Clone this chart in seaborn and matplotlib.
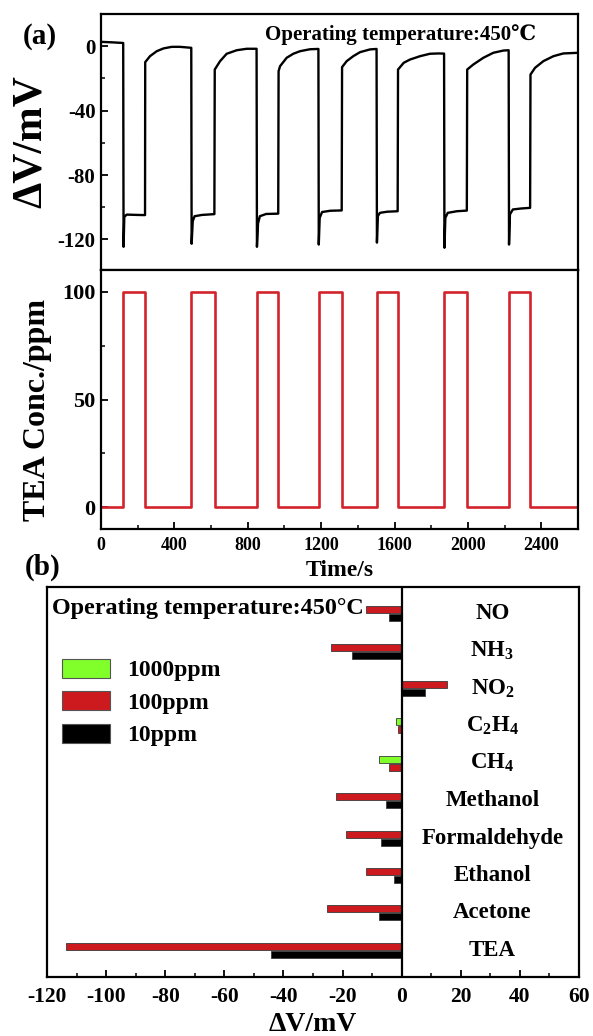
import numpy as np
import pandas as pd
import matplotlib
matplotlib.use("Agg")
import matplotlib.pyplot as plt
from matplotlib.patches import Patch
from matplotlib.ticker import MultipleLocator
import seaborn as sns

# ---------------------------------------------------------------
# (a) Transient response to 100 ppm TEA at 450 °C
# ---------------------------------------------------------------
time_s = [
    0, 60, 121,
    123, 127, 140, 200, 240,
    241, 267, 304, 340, 385, 430, 492,
    494, 500, 510, 550, 618,
    620, 649, 685, 740, 794, 848,
    850, 856, 866, 900, 966,
    968, 976, 1012, 1048, 1085, 1139, 1185,
    1187, 1192, 1205, 1250, 1312,
    1314, 1339, 1375, 1412, 1466, 1502,
    1504, 1509, 1520, 1560, 1617,
    1619, 1650, 1684, 1739, 1793, 1840, 1870,
    1872, 1877, 1890, 1940, 1994,
    1996, 2029, 2084, 2138, 2193, 2222,
    2224, 2229, 2245, 2290, 2339,
    2341, 2366, 2411, 2466, 2520, 2600,
]
dv_mv = [
    2.7, 2.4, 2.0,
    -124.6, -106.0, -104.6, -104.8, -104.9,
    -9.9, -6.2, -3.1, -1.4, -0.4, -0.4, -1.0,
    -122.7, -108.7, -105.6, -104.8, -104.3,
    -14.5, -9.3, -4.7, -2.5, -1.6, -1.6,
    -124.6, -110.0, -105.6, -104.2, -104.0,
    -15.5, -12.4, -7.2, -4.7, -3.1, -1.9, -1.7,
    -123.2, -106.6, -103.0, -102.2, -102.0,
    -13.0, -9.3, -6.2, -3.7, -2.0, -1.7,
    -122.0, -105.6, -103.5, -102.8, -102.5,
    -14.5, -10.3, -8.3, -6.2, -4.7, -4.5, -4.6,
    -125.2, -106.6, -103.5, -102.5, -102.1,
    -14.5, -11.4, -7.2, -4.1, -2.7, -2.5,
    -123.2, -104.5, -101.4, -100.8, -100.4,
    -17.6, -13.4, -9.3, -6.2, -4.5, -4.1,
]

# TEA gas pulses (s) and concentration (ppm)
pulse_on_s = [122, 493, 849, 1186, 1503, 1871, 2223]
pulse_off_s = [240, 619, 967, 1313, 1618, 1995, 2340]
pulse_ppm = 100
run_end_s = 2600

# ---------------------------------------------------------------
# (b) Selectivity at 450 °C
# ---------------------------------------------------------------
gases = ["NO", "NH3", "NO2", "C2H4", "CH4", "Methanol",
         "Formaldehyde", "Ethanol", "Acetone", "TEA"]
gas_labels = ["NO", r"$\mathbf{NH_3}$", r"$\mathbf{NO_2}$",
              r"$\mathbf{C_2H_4}$", r"$\mathbf{CH_4}$", "Methanol",
              "Formaldehyde", "Ethanol", "Acetone", "TEA"]
series_names = ["1000ppm", "100ppm", "10ppm"]
nan = np.nan
dv_1000ppm = [nan, nan, nan, -1.9, -7.8, nan, nan, nan, nan, nan]
dv_100ppm = [-11.9, -23.8, 15.5, -1.2, -4.2, -22.2, -18.9, -12.2, -25.4, -113.5]
dv_10ppm = [-4.3, -16.8, 7.8, nan, nan, -5.4, -7.1, -2.6, -7.8, -44.2]
series_colors = ["#80FF2A", "#CC1A1F", "#000000"]

# ---------------------------------------------------------------
sns.set_theme(style="ticks")
plt.rcParams.update({
    "font.family": ["Liberation Serif", "DejaVu Serif", "DejaVu Sans"],
    "font.weight": "bold",
    "axes.labelweight": "bold",
    "axes.unicode_minus": False,
    "mathtext.fontset": "custom",
    "mathtext.rm": "Liberation Serif:bold",
    "mathtext.bf": "Liberation Serif:bold",
    "mathtext.it": "Liberation Serif:bold",
    "axes.edgecolor": "black",
    "axes.linewidth": 1.6,
    "text.color": "black",
    "axes.labelcolor": "black",
    "xtick.color": "black",
    "ytick.color": "black",
    "xtick.direction": "in",
    "ytick.direction": "in",
    "xtick.major.width": 1.3,
    "ytick.major.width": 1.3,
    "xtick.minor.width": 1.1,
    "ytick.minor.width": 1.1,
    "xtick.major.size": 5,
    "ytick.major.size": 5,
    "xtick.minor.size": 3,
    "ytick.minor.size": 3,
})

W, H = 593, 1036
fig = plt.figure(figsize=(W / 100, H / 100), dpi=100)


def frame(left, top, right, bottom):
    return [left / W, 1 - bottom / H, (right - left) / W, (bottom - top) / H]


ax_v = fig.add_axes(frame(101, 14, 578, 270))
ax_c = fig.add_axes(frame(101, 270, 578, 529))
ax_b = fig.add_axes(frame(47, 587, 579, 977))

# --- (a) upper: sensor signal ---
sns.lineplot(x=time_s, y=dv_mv, ax=ax_v, color="black", linewidth=1.7,
             sort=False, estimator=None)
ax_v.set_xlim(0, run_end_s)
ax_v.set_ylim(-139, 20)
ax_v.yaxis.set_major_locator(MultipleLocator(40))
ax_v.yaxis.set_minor_locator(MultipleLocator(20))
ax_v.tick_params(axis="x", which="both", bottom=False, labelbottom=False)
ax_v.tick_params(axis="y", which="both", labelsize=15, pad=4)
ax_v.set_ylabel("ΔV/mV", fontsize=30, va="center")
ax_v.yaxis.set_label_coords(-0.147, 0.5)
ax_v.text(0.344, 0.92, "Operating temperature:450℃", transform=ax_v.transAxes,
          fontsize=15, ha="left", va="center")

# --- (a) lower: TEA concentration ---
conc_t, conc_v = [0], [0]
for t_on, t_off in zip(pulse_on_s, pulse_off_s):
    conc_t += [t_on, t_on, t_off, t_off]
    conc_v += [0, pulse_ppm, pulse_ppm, 0]
conc_t.append(run_end_s)
conc_v.append(0)
sns.lineplot(x=conc_t, y=conc_v, ax=ax_c, color="#D2232A", linewidth=1.9,
             sort=False, estimator=None)
ax_c.set_xlim(0, run_end_s)
ax_c.set_ylim(-10, 110)
ax_c.xaxis.set_major_locator(MultipleLocator(400))
ax_c.xaxis.set_minor_locator(MultipleLocator(200))
ax_c.yaxis.set_major_locator(MultipleLocator(50))
ax_c.yaxis.set_minor_locator(MultipleLocator(25))
ax_c.tick_params(axis="x", which="both", labelsize=13, pad=6)
ax_c.tick_params(axis="y", which="both", labelsize=16, pad=4)
ax_c.set_xlabel("Time/s", fontsize=17, va="center")
ax_c.xaxis.set_label_coords(0.5, -0.160)
ax_c.set_ylabel("TEA Conc./ppm", fontsize=23, va="center")
ax_c.yaxis.set_label_coords(-0.134, 0.46)

fig.text(40 / W, 1 - 36 / H, "(a)", fontsize=21, ha="center", va="center")
fig.text(43 / W, 1 - 567 / H, "(b)", fontsize=21, ha="center", va="center")

# --- (b) selectivity bars: present series centred on each gas row ---
bar_step = 0.214
rows = []
for i, gas in enumerate(gases):
    vals = [dv_1000ppm[i], dv_100ppm[i], dv_10ppm[i]]
    present = [(s, v) for s, v in zip(series_names, vals) if not np.isnan(v)]
    n = len(present)
    for j, (s, v) in enumerate(present):
        rows.append({"gas": gas, "series": s, "dv": v,
                     "pos": i + (j - (n - 1) / 2) * bar_step})
bars = pd.DataFrame(rows)

sns.barplot(data=bars, x="dv", y="pos", hue="series", hue_order=series_names,
            palette=dict(zip(series_names, series_colors)), orient="h",
            native_scale=True, dodge=False, width=0.875, errorbar=None,
            saturation=1, edgecolor="#3a3a3a", linewidth=0.6, legend=False,
            ax=ax_b)
ax_b.axvline(0, color="black", linewidth=1.6, zorder=5)
ax_b.set_xlim(-120, 60)
ax_b.set_ylim(len(gases) - 1 + 0.72, -0.72)
ax_b.set_yticks([])
ax_b.set_ylabel("")
ax_b.xaxis.set_major_locator(MultipleLocator(20))
ax_b.xaxis.set_minor_locator(MultipleLocator(10))
ax_b.tick_params(axis="x", which="both", labelsize=15.5, pad=7)
ax_b.set_xlabel("ΔV/mV", fontsize=20, va="center")
ax_b.xaxis.set_label_coords(0.5, -0.123)

for i, lab in enumerate(gas_labels):
    ax_b.text(30.7, i, lab, fontsize=16.5, ha="center", va="center")

ax_b.text(0.009, 0.944, "Operating temperature:450°C", transform=ax_b.transAxes,
          fontsize=17.4, ha="left", va="center")

handles = [Patch(facecolor=c, edgecolor="#555555", linewidth=0.8, label=n)
           for n, c in zip(series_names, series_colors)]
ax_b.legend(handles=handles, loc="upper left", bbox_to_anchor=(0.029, 0.816),
            frameon=False, fontsize=17, handlelength=2.03, handleheight=0.85,
            handletextpad=0.72, labelspacing=0.42, borderpad=0, borderaxespad=0)

fig.savefig("out.png", dpi=100)
